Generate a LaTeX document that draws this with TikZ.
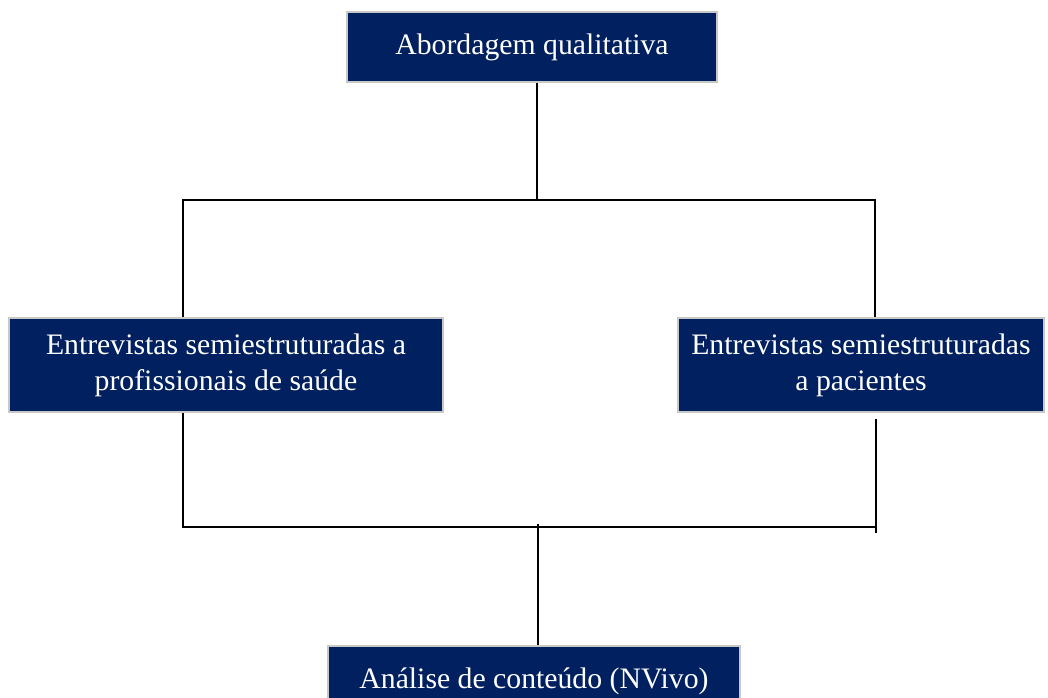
\documentclass[tikz,border=0pt]{standalone}
\usepackage{fontspec}
\setmainfont{Liberation Serif}
\definecolor{navybox}{HTML}{002060}
\definecolor{boxrim}{HTML}{C8C8C8}
\begin{document}
\begin{tikzpicture}[x=0.75pt,y=-0.75pt]
\tikzset{stage/.style={draw=boxrim,line width=1.5pt,fill=navybox,text=white,align=center,
  inner sep=0pt,font=\fontsize{22.3}{27}\selectfont},
  link/.style={black,line width=0.9pt}}
\useasboundingbox (0,0) rectangle (1048,697);
\begin{scope}
\clip (0,0) rectangle (1048,697);
% boxes
\node [stage,minimum width=370*0.75pt,minimum height=70*0.75pt] (qual) at (532,47) {Abordagem qualitativa};
\node [stage,minimum width=434*0.75pt,minimum height=94*0.75pt] (prof) at (226,365) {Entrevistas semiestruturadas a\\profissionais de saúde};
\node [stage,minimum width=366*0.75pt,minimum height=94*0.75pt] (pac) at (861,365) {Entrevistas semiestruturadas\\a pacientes};
\node [stage,minimum width=412*0.75pt,text height=32pt,text depth=40pt,anchor=north] (nvivo) at (534,645) {Análise de conteúdo (NVivo)};
\end{scope}
% junctions
\coordinate (split) at (537,200);
\coordinate (splitL) at (183,200);
\coordinate (splitR) at (875,200);
\coordinate (joinL) at (183,527);
\coordinate (joinR) at (876,527);
\coordinate (join) at (538,527);
% connectors
\draw [link] (qual.south -| split) -- (split);
\draw [link] (prof.north -| splitL) -- (splitL) -- (splitR) -- (pac.north -| splitR);
\draw [link] (prof.south -| joinL) -- (joinL) -- (joinR) -- ++(0,6);
\draw [link] (pac.south -| joinR) ++(0,6) -- (joinR);
\draw [link] (join) ++(0,-3) -- (nvivo.north -| join);
\end{tikzpicture}
\end{document}
